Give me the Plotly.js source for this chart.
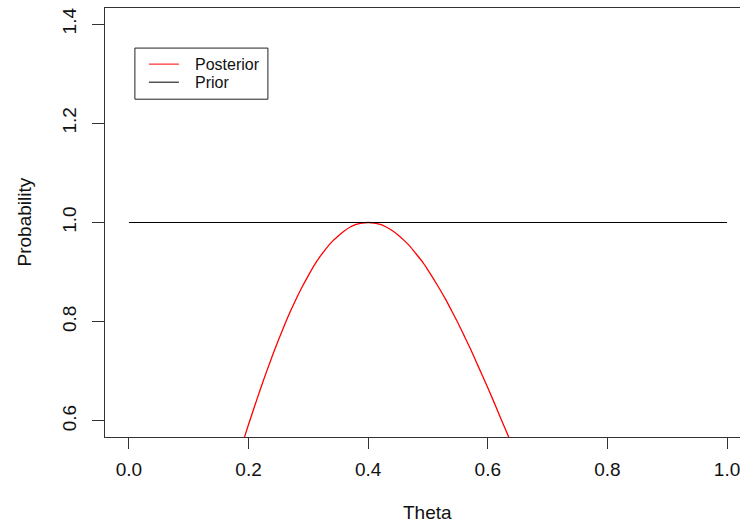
<!DOCTYPE html>
<html>
<head>
<meta charset="utf-8">
<script src="https://cdn.plot.ly/plotly-3.0.1.min.js"></script>
<style>html,body{margin:0;padding:0;background:#fff;}</style>
</head>
<body>
<div id="chart" style="width:740px;height:524px;"></div>
<script>
// Posterior, theta grid and values
var postTheta = [0.18,0.19,0.20,0.21,0.22,0.23,0.24,0.25,0.26,0.27,0.28,0.29,0.30,0.31,0.32,0.33,0.34,0.35,0.36,0.37,0.38,0.39,0.40,0.41,0.42,0.43,0.44,0.45,0.46,0.47,0.48,0.49,0.50,0.51,0.52,0.53,0.54,0.55,0.56,0.57,0.58,0.59,0.60,0.61,0.62,0.63,0.64,0.65];
var postValue = [0.517,0.555,0.593,0.629,0.665,0.699,0.732,0.763,0.793,0.821,0.847,0.871,0.893,0.914,0.932,0.948,0.962,0.973,0.983,0.991,0.996,0.999,1.000,0.999,0.996,0.991,0.984,0.975,0.964,0.952,0.937,0.922,0.904,0.885,0.865,0.844,0.821,0.798,0.773,0.748,0.721,0.694,0.667,0.639,0.610,0.582,0.553,0.524];
// Prior
var priorTheta = [0.0, 1.0];
var priorValue = [1.0, 1.0];
var xTicks = [0.0,0.2,0.4,0.6,0.8,1.0];
var xTickText = ["0.0","0.2","0.4","0.6","0.8","1.0"];
var yTicks = [0.6,0.8,1.0,1.2,1.4];
var yTickText = ["0.6","0.8","1.0","1.2","1.4"];
var seriesNames = ["Posterior","Prior"];
var seriesColors = ["#ff0000","#000000"];

var FONT = "Liberation Sans, Arial, sans-serif";
var traces = [
  {x: postTheta, y: postValue, type: "scatter", mode: "lines", name: seriesNames[0],
   line: {color: seriesColors[0], width: 1.3, shape: "spline", smoothing: 0.6}, showlegend: false},
  {x: priorTheta, y: priorValue, type: "scatter", mode: "lines", name: seriesNames[1],
   line: {color: seriesColors[1], width: 1.2}, showlegend: false}
];

// R-style legend box (drawn with shapes + text), positions in data coords of the frame
var legX0 = 0.010, legX1 = 0.2324, legY0 = 1.2485, legY1 = 1.3515;
var legLineX0 = 0.0334, legLineX1 = 0.0836, legTextX = 0.1070;
var legRowY = [1.3192, 1.2828];
var shapes = [{type: "rect", xref: "x", yref: "y", x0: legX0, x1: legX1, y0: legY0, y1: legY1,
  line: {color: "#222", width: 1}, fillcolor: "#fff", layer: "above"}];
var annotations = [];
for (var i = 0; i < seriesNames.length; i++) {
  shapes.push({type: "line", xref: "x", yref: "y", x0: legLineX0, x1: legLineX1, y0: legRowY[i], y1: legRowY[i],
    line: {color: seriesColors[i], width: 1}, layer: "above"});
  annotations.push({text: seriesNames[i], xref: "x", yref: "y", x: legTextX, y: legRowY[i],
    xanchor: "left", yanchor: "middle", showarrow: false,
    font: {family: FONT, size: 16, color: "#111"}});
}
annotations.push({text: "Theta", xref: "x", yref: "paper", x: 0.5, y: 0, yshift: -75, xanchor: "center", yanchor: "middle",
  showarrow: false, font: {family: FONT, size: 19, color: "#111"}});
annotations.push({text: "Probability", xref: "paper", yref: "y", x: 0, xshift: -81, y: 1.0, textangle: -90,
  xanchor: "center", yanchor: "middle", showarrow: false, font: {family: FONT, size: 19, color: "#111"}});

var layout = {
  width: 740, height: 524,
  margin: {l: 105, r: 0, t: 8, b: 87},
  paper_bgcolor: "#fff", plot_bgcolor: "#fff",
  showlegend: false,
  xaxis: {range: [-0.04, 1.0217], tickvals: xTicks, ticktext: xTickText,
    showgrid: false, zeroline: false, showline: true, mirror: true, linecolor: "#333", linewidth: 1,
    ticks: "outside", ticklen: 11, tickcolor: "#333", tickwidth: 1, ticklabelstandoff: 4,
    ticklabeloverflow: "allow",
    tickfont: {family: FONT, size: 19, color: "#111"}, fixedrange: true},
  yaxis: {range: [0.5677, 1.4323], tickvals: yTicks, ticktext: yTickText,
    showgrid: false, zeroline: false, showline: true, mirror: false, linecolor: "#333", linewidth: 1,
    ticks: "outside", ticklen: 12, tickcolor: "#333", tickwidth: 1, tickangle: -90, ticklabelstandoff: 8,
    ticklabeloverflow: "allow",
    tickfont: {family: FONT, size: 19, color: "#111"}, fixedrange: true},
  shapes: shapes,
  annotations: annotations
};
Plotly.newPlot("chart", traces, layout, {displayModeBar: false, staticPlot: true});
</script>
</body>
</html>
